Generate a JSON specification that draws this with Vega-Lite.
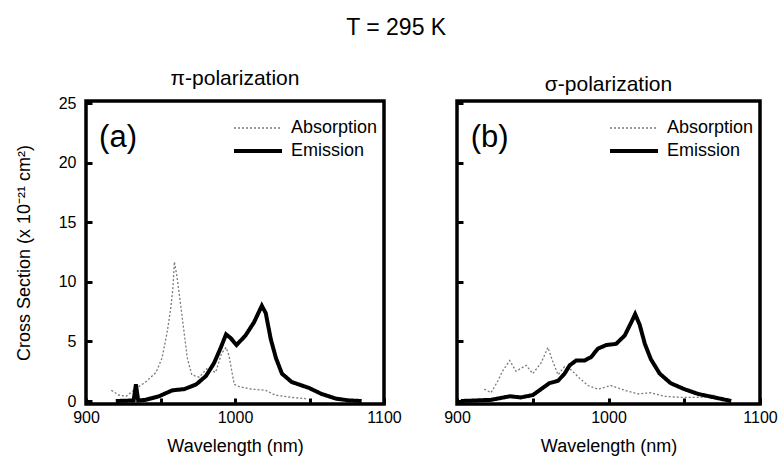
{
  "$schema": "https://vega.github.io/schema/vega-lite/v6.json",
  "padding": {"left": 13, "top": 16, "right": 5, "bottom": 0},
  "background": "white",
  "title": {"text": "T = 295 K", "fontSize": 23, "font": "Liberation Sans", "fontWeight": "normal", "anchor": "middle", "offset": 27},
  "config": {
    "font": "Liberation Sans",
    "view": {"stroke": "black", "strokeWidth": 3.5},
    "axis": {"labelFont": "Liberation Sans", "labelFontSize": 16, "labelColor": "black", "titleFont": "Liberation Sans", "titleFontSize": 18, "titleFontWeight": "normal", "titleColor": "black", "grid": false, "domain": false, "tickColor": "black", "tickWidth": 3, "tickSize": -6},
    "title": {"font": "Liberation Sans", "fontSize": 21, "fontWeight": "normal", "offset": 6},
    "legend": {"labelFont": "Liberation Sans", "labelFontSize": 18, "labelColor": "black", "titleFontSize": 8, "titlePadding": 0}
  },
  "datasets": {
    "spectra": [
      {"panel": "a", "series": "Absorption", "wl": 917, "cs": 0.9},
      {"panel": "a", "series": "Absorption", "wl": 922, "cs": 0.5},
      {"panel": "a", "series": "Absorption", "wl": 927, "cs": 0.4},
      {"panel": "a", "series": "Absorption", "wl": 933, "cs": 1.0},
      {"panel": "a", "series": "Absorption", "wl": 940, "cs": 1.6},
      {"panel": "a", "series": "Absorption", "wl": 947, "cs": 2.4},
      {"panel": "a", "series": "Absorption", "wl": 951, "cs": 3.6},
      {"panel": "a", "series": "Absorption", "wl": 954.5, "cs": 5.8},
      {"panel": "a", "series": "Absorption", "wl": 957, "cs": 7.9},
      {"panel": "a", "series": "Absorption", "wl": 958.4, "cs": 9.6},
      {"panel": "a", "series": "Absorption", "wl": 959.3, "cs": 11.7},
      {"panel": "a", "series": "Absorption", "wl": 961, "cs": 10.5},
      {"panel": "a", "series": "Absorption", "wl": 963.7, "cs": 7.9},
      {"panel": "a", "series": "Absorption", "wl": 965.8, "cs": 5.8},
      {"panel": "a", "series": "Absorption", "wl": 968, "cs": 3.6},
      {"panel": "a", "series": "Absorption", "wl": 971, "cs": 2.2},
      {"panel": "a", "series": "Absorption", "wl": 976, "cs": 2.0},
      {"panel": "a", "series": "Absorption", "wl": 981, "cs": 2.7},
      {"panel": "a", "series": "Absorption", "wl": 987, "cs": 2.4},
      {"panel": "a", "series": "Absorption", "wl": 991, "cs": 4.0},
      {"panel": "a", "series": "Absorption", "wl": 994, "cs": 4.5},
      {"panel": "a", "series": "Absorption", "wl": 996, "cs": 3.8},
      {"panel": "a", "series": "Absorption", "wl": 998, "cs": 2.4},
      {"panel": "a", "series": "Absorption", "wl": 999.5, "cs": 1.4},
      {"panel": "a", "series": "Absorption", "wl": 1003, "cs": 1.2},
      {"panel": "a", "series": "Absorption", "wl": 1011, "cs": 1.0},
      {"panel": "a", "series": "Absorption", "wl": 1020.6, "cs": 0.9},
      {"panel": "a", "series": "Absorption", "wl": 1027, "cs": 0.5},
      {"panel": "a", "series": "Absorption", "wl": 1038, "cs": 0.3},
      {"panel": "a", "series": "Absorption", "wl": 1047.6, "cs": 0.2},
      {"panel": "a", "series": "Emission", "wl": 920, "cs": 0.0},
      {"panel": "a", "series": "Emission", "wl": 932, "cs": 0.05},
      {"panel": "a", "series": "Emission", "wl": 933.5, "cs": 1.4},
      {"panel": "a", "series": "Emission", "wl": 935, "cs": 0.05},
      {"panel": "a", "series": "Emission", "wl": 940, "cs": 0.1},
      {"panel": "a", "series": "Emission", "wl": 949, "cs": 0.4},
      {"panel": "a", "series": "Emission", "wl": 958, "cs": 0.9},
      {"panel": "a", "series": "Emission", "wl": 966, "cs": 1.0},
      {"panel": "a", "series": "Emission", "wl": 974, "cs": 1.4},
      {"panel": "a", "series": "Emission", "wl": 980.5, "cs": 2.1},
      {"panel": "a", "series": "Emission", "wl": 986, "cs": 3.2},
      {"panel": "a", "series": "Emission", "wl": 990.5, "cs": 4.5},
      {"panel": "a", "series": "Emission", "wl": 994, "cs": 5.6},
      {"panel": "a", "series": "Emission", "wl": 997, "cs": 5.3},
      {"panel": "a", "series": "Emission", "wl": 1001, "cs": 4.7},
      {"panel": "a", "series": "Emission", "wl": 1007, "cs": 5.5},
      {"panel": "a", "series": "Emission", "wl": 1012.7, "cs": 6.6},
      {"panel": "a", "series": "Emission", "wl": 1018, "cs": 8.0},
      {"panel": "a", "series": "Emission", "wl": 1020.6, "cs": 7.4},
      {"panel": "a", "series": "Emission", "wl": 1024, "cs": 5.2},
      {"panel": "a", "series": "Emission", "wl": 1027.5, "cs": 3.6},
      {"panel": "a", "series": "Emission", "wl": 1031.5, "cs": 2.3},
      {"panel": "a", "series": "Emission", "wl": 1038, "cs": 1.6},
      {"panel": "a", "series": "Emission", "wl": 1049.6, "cs": 1.1},
      {"panel": "a", "series": "Emission", "wl": 1058, "cs": 0.6},
      {"panel": "a", "series": "Emission", "wl": 1067.8, "cs": 0.2},
      {"panel": "a", "series": "Emission", "wl": 1076.5, "cs": 0.05},
      {"panel": "a", "series": "Emission", "wl": 1085, "cs": 0.0},
      {"panel": "b", "series": "Absorption", "wl": 918, "cs": 1.0},
      {"panel": "b", "series": "Absorption", "wl": 922.5, "cs": 0.7},
      {"panel": "b", "series": "Absorption", "wl": 927, "cs": 1.7},
      {"panel": "b", "series": "Absorption", "wl": 930, "cs": 2.5},
      {"panel": "b", "series": "Absorption", "wl": 934.8, "cs": 3.4},
      {"panel": "b", "series": "Absorption", "wl": 939, "cs": 2.5},
      {"panel": "b", "series": "Absorption", "wl": 945.6, "cs": 3.0},
      {"panel": "b", "series": "Absorption", "wl": 950, "cs": 2.3},
      {"panel": "b", "series": "Absorption", "wl": 955.5, "cs": 3.2},
      {"panel": "b", "series": "Absorption", "wl": 960, "cs": 4.5},
      {"panel": "b", "series": "Absorption", "wl": 963, "cs": 3.4},
      {"panel": "b", "series": "Absorption", "wl": 966.7, "cs": 2.2},
      {"panel": "b", "series": "Absorption", "wl": 971, "cs": 2.9},
      {"panel": "b", "series": "Absorption", "wl": 975.5, "cs": 2.6},
      {"panel": "b", "series": "Absorption", "wl": 981, "cs": 1.9},
      {"panel": "b", "series": "Absorption", "wl": 986.5, "cs": 1.3},
      {"panel": "b", "series": "Absorption", "wl": 993, "cs": 1.0},
      {"panel": "b", "series": "Absorption", "wl": 1001.7, "cs": 1.3},
      {"panel": "b", "series": "Absorption", "wl": 1010.7, "cs": 0.9},
      {"panel": "b", "series": "Absorption", "wl": 1019.5, "cs": 0.6},
      {"panel": "b", "series": "Absorption", "wl": 1028, "cs": 0.7},
      {"panel": "b", "series": "Absorption", "wl": 1037, "cs": 0.4},
      {"panel": "b", "series": "Absorption", "wl": 1048, "cs": 0.3},
      {"panel": "b", "series": "Absorption", "wl": 1060, "cs": 0.3},
      {"panel": "b", "series": "Absorption", "wl": 1070, "cs": 0.5},
      {"panel": "b", "series": "Emission", "wl": 902.6, "cs": 0.0},
      {"panel": "b", "series": "Emission", "wl": 922.5, "cs": 0.1},
      {"panel": "b", "series": "Emission", "wl": 935, "cs": 0.4},
      {"panel": "b", "series": "Emission", "wl": 942, "cs": 0.3},
      {"panel": "b", "series": "Emission", "wl": 950, "cs": 0.5},
      {"panel": "b", "series": "Emission", "wl": 955.5, "cs": 1.0},
      {"panel": "b", "series": "Emission", "wl": 961, "cs": 1.5},
      {"panel": "b", "series": "Emission", "wl": 966.7, "cs": 1.7},
      {"panel": "b", "series": "Emission", "wl": 971, "cs": 2.3},
      {"panel": "b", "series": "Emission", "wl": 974.4, "cs": 3.0},
      {"panel": "b", "series": "Emission", "wl": 978.6, "cs": 3.4},
      {"panel": "b", "series": "Emission", "wl": 984.3, "cs": 3.4},
      {"panel": "b", "series": "Emission", "wl": 988.6, "cs": 3.7},
      {"panel": "b", "series": "Emission", "wl": 993, "cs": 4.4},
      {"panel": "b", "series": "Emission", "wl": 998.5, "cs": 4.7},
      {"panel": "b", "series": "Emission", "wl": 1005, "cs": 4.8},
      {"panel": "b", "series": "Emission", "wl": 1010.7, "cs": 5.5},
      {"panel": "b", "series": "Emission", "wl": 1015, "cs": 6.6},
      {"panel": "b", "series": "Emission", "wl": 1017.6, "cs": 7.3},
      {"panel": "b", "series": "Emission", "wl": 1020.6, "cs": 6.4},
      {"panel": "b", "series": "Emission", "wl": 1024, "cs": 4.8},
      {"panel": "b", "series": "Emission", "wl": 1028, "cs": 3.5},
      {"panel": "b", "series": "Emission", "wl": 1033.8, "cs": 2.3},
      {"panel": "b", "series": "Emission", "wl": 1041, "cs": 1.5},
      {"panel": "b", "series": "Emission", "wl": 1050, "cs": 1.0},
      {"panel": "b", "series": "Emission", "wl": 1059, "cs": 0.6},
      {"panel": "b", "series": "Emission", "wl": 1070, "cs": 0.3},
      {"panel": "b", "series": "Emission", "wl": 1081, "cs": 0.0}
    ],
    "labels": [
      {"panel": "a", "label": "(a)", "wl": 921.5, "cs": 22.1},
      {"panel": "b", "label": "(b)", "wl": 921.5, "cs": 22.1}
    ]
  },
  "hconcat": [
    {
      "width": 298,
      "height": 303,
      "title": "π-polarization",
      "layer": [
        {
          "data": {"name": "spectra"},
          "transform": [{"filter": "datum.panel === 'a'"}],
          "mark": {"type": "line", "interpolate": "linear"},
          "encoding": {
            "x": {"field": "wl", "type": "quantitative", "scale": {"domain": [900, 1100], "nice": false, "zero": false}, "axis": {"title": "Wavelength (nm)", "format": "d", "values": [900, 950, 1000, 1050, 1100], "labelExpr": "datum.value % 100 === 0 ? datum.label : ''", "labelPadding": 11, "titlePadding": 12, "labelFlush": false}},
            "y": {"field": "cs", "type": "quantitative", "scale": {"domain": [-0.25, 25.2], "nice": false, "zero": false}, "axis": {"title": "Cross Section (x 10⁻²¹ cm²)", "values": [0, 5, 10, 15, 20, 25], "labelPadding": 16, "titlePadding": 25}},
            "color": {"field": "series", "type": "nominal", "scale": {"domain": ["Absorption", "Emission"], "range": ["#7a7a7a", "black"]}, "legend": {"title": " ", "orient": "top-right", "offset": 6, "symbolType": "M-2,0H2", "symbolSize": 576, "labelOffset": 19, "rowPadding": 0}},
            "strokeDash": {"field": "series", "type": "nominal", "scale": {"domain": ["Absorption", "Emission"], "range": [[2, 2], [1, 0]]}, "legend": {"title": " ", "orient": "top-right", "offset": 6, "symbolType": "M-2,0H2", "symbolSize": 576, "labelOffset": 19, "rowPadding": 0}},
            "strokeWidth": {"field": "series", "type": "nominal", "scale": {"domain": ["Absorption", "Emission"], "range": [1.3, 4]}, "legend": {"title": " ", "orient": "top-right", "offset": 6, "symbolType": "M-2,0H2", "symbolSize": 576, "labelOffset": 19, "rowPadding": 0}}
          }
        },
        {
          "data": {"name": "labels"},
          "transform": [{"filter": "datum.panel === 'a'"}],
          "mark": {"type": "text", "fontSize": 31, "font": "Liberation Sans", "color": "black"},
          "encoding": {
            "x": {"field": "wl", "type": "quantitative"},
            "y": {"field": "cs", "type": "quantitative"},
            "text": {"field": "label"}
          }
        }
      ]
    },
    {
      "width": 303,
      "height": 303,
      "title": "σ-polarization",
      "layer": [
        {
          "data": {"name": "spectra"},
          "transform": [{"filter": "datum.panel === 'b'"}],
          "mark": {"type": "line", "interpolate": "linear"},
          "encoding": {
            "x": {"field": "wl", "type": "quantitative", "scale": {"domain": [900, 1100], "nice": false, "zero": false}, "axis": {"title": "Wavelength (nm)", "format": "d", "values": [900, 950, 1000, 1050, 1100], "labelExpr": "datum.value % 100 === 0 ? datum.label : ''", "labelPadding": 11, "titlePadding": 12, "labelFlush": false}},
            "y": {"field": "cs", "type": "quantitative", "scale": {"domain": [-0.25, 25.2], "nice": false, "zero": false}, "axis": {"title": null, "values": [0, 5, 10, 15, 20, 25], "labels": false}},
            "color": {"field": "series", "type": "nominal", "scale": {"domain": ["Absorption", "Emission"], "range": ["#7a7a7a", "black"]}, "legend": {"title": " ", "orient": "top-right", "offset": 6, "symbolType": "M-2,0H2", "symbolSize": 576, "labelOffset": 19, "rowPadding": 0}},
            "strokeDash": {"field": "series", "type": "nominal", "scale": {"domain": ["Absorption", "Emission"], "range": [[2, 2], [1, 0]]}, "legend": {"title": " ", "orient": "top-right", "offset": 6, "symbolType": "M-2,0H2", "symbolSize": 576, "labelOffset": 19, "rowPadding": 0}},
            "strokeWidth": {"field": "series", "type": "nominal", "scale": {"domain": ["Absorption", "Emission"], "range": [1.3, 4]}, "legend": {"title": " ", "orient": "top-right", "offset": 6, "symbolType": "M-2,0H2", "symbolSize": 576, "labelOffset": 19, "rowPadding": 0}}
          }
        },
        {
          "data": {"name": "labels"},
          "transform": [{"filter": "datum.panel === 'b'"}],
          "mark": {"type": "text", "fontSize": 31, "font": "Liberation Sans", "color": "black"},
          "encoding": {
            "x": {"field": "wl", "type": "quantitative"},
            "y": {"field": "cs", "type": "quantitative"},
            "text": {"field": "label"}
          }
        }
      ]
    }
  ],
  "spacing": 38,
  "resolve": {"legend": {"color": "independent", "strokeDash": "independent", "strokeWidth": "independent"}, "scale": {"color": "independent", "strokeDash": "independent", "strokeWidth": "independent"}}
}
